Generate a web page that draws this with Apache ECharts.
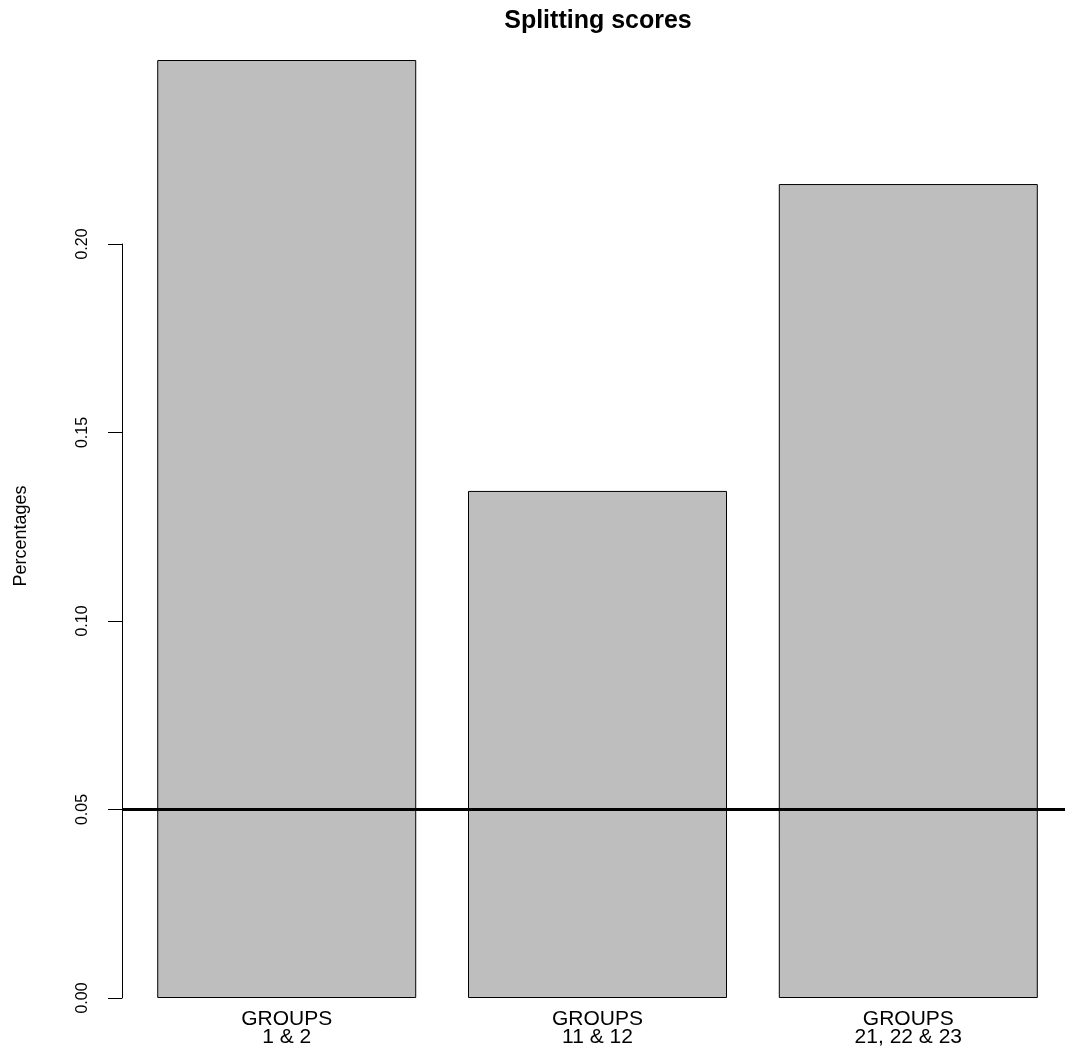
<!DOCTYPE html>
<html>
<head>
<meta charset="utf-8">
<script src="https://cdn.jsdelivr.net/npm/echarts@6/dist/echarts.min.js"></script>
<style>
html,body{margin:0;padding:0;background:#fff;}
#chart{width:1065px;height:1051px;}
</style>
</head>
<body>
<div id="chart"></div>
<script>
// ---- data ----
const categories = ['GROUPS\n1 & 2', 'GROUPS\n11 & 12', 'GROUPS\n21, 22 & 23'];
const percentages = [0.2488, 0.1345, 0.2159];
const thresholdValue = 0.05;
const titleText = 'Splitting scores';
const yAxisTitle = 'Percentages';

// R barplot layout: width 1, space 0.2 -> bar centres at 0.7, 1.9, 3.1
const barCentres = categories.map((c, i) => 0.7 + 1.2 * i);
const xMin = 0.2 - 0.04 * (3.6 - 0.2);
const xMax = 3.705; // visible part of the R plot region (device is cut at the right)

const FONT = '"Liberation Sans", Arial, Helvetica, sans-serif';
const chart = echarts.init(document.getElementById('chart'), null, {renderer: 'canvas'});

chart.setOption({
  backgroundColor: '#ffffff',
  animation: false,
  title: {
    text: titleText,
    left: 598,
    textAlign: 'center',
    top: 9,
    padding: 0,
    textStyle: {fontFamily: FONT, fontWeight: 'bold', fontSize: 25, color: '#000'}
  },
  grid: {left: 122, right: 0, top: 244, bottom: 53, containLabel: false},
  xAxis: {
    type: 'value',
    min: xMin,
    max: xMax,
    axisLine: {show: false},
    axisTick: {show: false},
    splitLine: {show: false},
    axisLabel: {
      customValues: barCentres,
      formatter: function (v) {
        let idx = barCentres.findIndex(c => Math.abs(c - v) < 1e-6);
        return idx >= 0 ? categories[idx] : '';
      },
      margin: 12,
      fontFamily: FONT,
      fontSize: 21,
      lineHeight: 18,
      color: '#000'
    }
  },
  yAxis: {
    type: 'value',
    min: 0,
    max: 0.2,
    interval: 0.05,
    axisLine: {show: true, lineStyle: {color: '#000', width: 1}},
    axisTick: {show: true, length: 14, lineStyle: {color: '#000', width: 1}},
    splitLine: {show: false},
    axisLabel: {
      rotate: 90,
      margin: 31,
      fontFamily: FONT,
      fontSize: 16,
      color: '#000',
      formatter: v => v.toFixed(2)
    }
  },
  graphic: [{
    type: 'text',
    x: 21,
    y: 536,
    rotation: Math.PI / 2,
    style: {
      text: yAxisTitle,
      align: 'center',
      verticalAlign: 'middle',
      font: '18px ' + FONT,
      fill: '#000'
    }
  }],
  series: [{
    type: 'bar',
    clip: false,
    barWidth: 259,
    data: percentages.map((v, i) => [barCentres[i], v]),
    itemStyle: {color: '#bebebe', borderColor: '#000', borderWidth: 1},
    markLine: {
      silent: true,
      symbol: ['none', 'none'],
      label: {show: false},
      lineStyle: {color: '#000', width: 3, type: 'solid'},
      data: [{yAxis: thresholdValue}]
    }
  }]
});
</script>
</body>
</html>
